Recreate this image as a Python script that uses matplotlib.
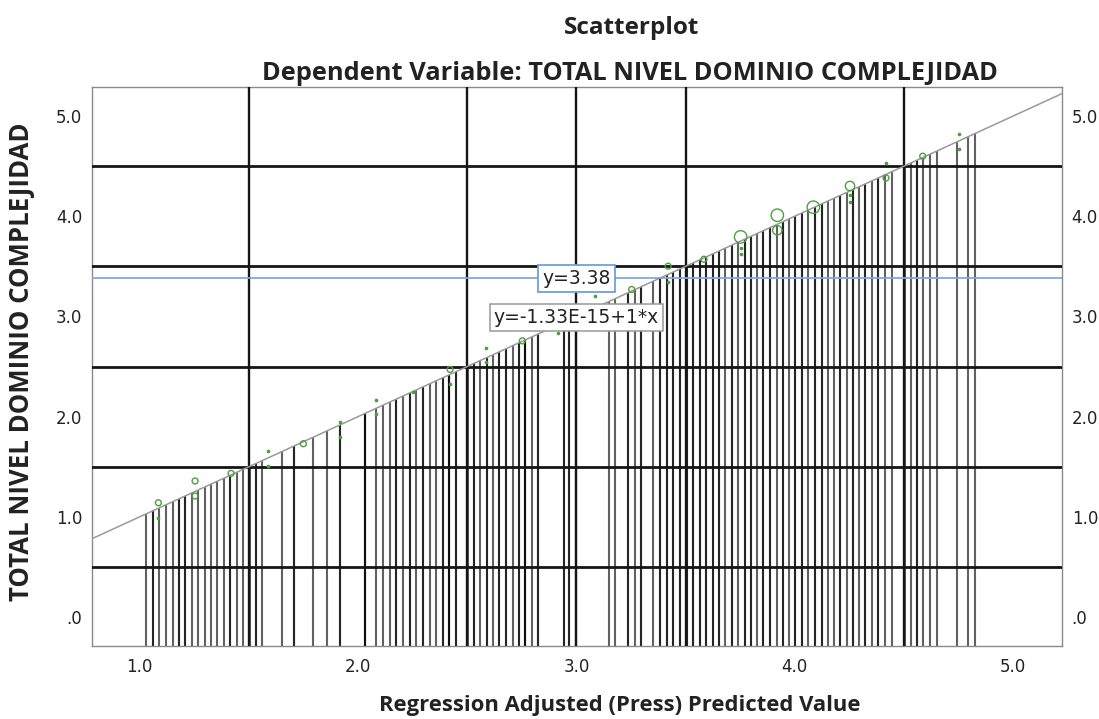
import matplotlib
matplotlib.use("Agg")
import matplotlib.pyplot as plt
import numpy as np

# ---- data ----
drop_x = [1.028, 1.059, 1.089, 1.120, 1.150, 1.179, 1.209, 1.239, 1.268, 1.297,
          1.326, 1.355, 1.385, 1.415, 1.445, 1.474, 1.503, 1.532, 1.561, 1.650,
          1.706, 1.795, 1.856, 1.915, 2.031, 2.083, 2.115, 2.144, 2.175, 2.205,
          2.236, 2.266, 2.297, 2.328, 2.358, 2.389, 2.418, 2.446, 2.503, 2.533,
          2.560, 2.588, 2.618, 2.647, 2.677, 2.708, 2.737, 2.766, 2.796, 2.824,
          2.941, 2.968, 2.999, 3.149, 3.178, 3.237, 3.268, 3.295, 3.352, 3.383,
          3.413, 3.443, 3.474, 3.505, 3.535, 3.564, 3.593, 3.624, 3.653, 3.682,
          3.711, 3.741, 3.772, 3.799, 3.827, 3.856, 3.886, 3.917, 3.946, 3.973,
          4.002, 4.032, 4.062, 4.092, 4.123, 4.153, 4.179, 4.208, 4.238, 4.268,
          4.294, 4.323, 4.352, 4.382, 4.413, 4.444, 4.505, 4.531, 4.558, 4.588,
          4.619, 4.650, 4.741, 4.795, 4.825]
drop_n = [1, 2, 1, 1, 1, 2, 2, 1, 1, 1,
          1, 1, 1, 2, 1, 1, 1, 2, 1, 1,
          2, 1, 1, 2, 3, 1, 1, 1, 2, 1,
          2, 1, 2, 1, 1, 2, 3, 2, 1, 2,
          1, 2, 1, 2, 2, 1, 2, 3, 1, 2,
          2, 2, 2, 1, 1, 2, 1, 2, 1, 2,
          2, 2, 2, 2, 2, 2, 2, 2, 2, 1,
          2, 1, 2, 2, 1, 2, 2, 1, 2, 1,
          2, 2, 1, 2, 2, 1, 1, 2, 1, 2,
          1, 2, 1, 2, 1, 1, 1, 1, 2, 1,
          1, 1, 1, 1, 1]

pt_x = [1.085, 1.082, 1.253, 1.253, 1.418, 1.586, 1.586, 1.749, 1.917, 1.917,
        2.083, 2.083, 2.253, 2.421, 2.421, 2.586, 2.586, 2.752, 2.917, 3.085,
        3.253, 3.420, 3.420, 3.584, 3.752, 3.752, 3.752, 3.920, 3.920, 4.085,
        4.253, 4.253, 4.253, 4.418, 4.418, 4.586, 4.751, 4.751]
pt_y = [1.140, 0.990, 1.357, 1.207, 1.433, 1.656, 1.506, 1.729, 1.945, 1.799,
        2.165, 2.022, 2.241, 2.471, 2.321, 2.686, 2.541, 2.756, 2.830, 3.202,
        3.269, 3.501, 3.345, 3.571, 3.794, 3.678, 3.621, 4.010, 3.860, 4.090,
        4.302, 4.209, 4.143, 4.532, 4.382, 4.599, 4.825, 4.675]
# 0 = small dot, 1 = small circle, 2 = medium circle, 3 = large circle
pt_kind = [1, 0, 1, 1, 1, 0, 0, 1, 0, 0,
           0, 0, 0, 1, 0, 0, 0, 1, 0, 0,
           1, 1, 0, 1, 3, 0, 0, 3, 2, 3,
           2, 0, 0, 0, 1, 1, 0, 0]

x_ticks = [1.0, 2.0, 3.0, 4.0, 5.0]
x_tick_labels = ["1.0", "2.0", "3.0", "4.0", "5.0"]
y_ticks = [0.0, 1.0, 2.0, 3.0, 4.0, 5.0]
y_tick_labels = [".0", "1.0", "2.0", "3.0", "4.0", "5.0"]
grid_y = [0.5, 1.5, 2.5, 3.5, 4.5]
grid_x = [1.5, 2.5, 3.0, 3.5, 4.5]
ref_y = 3.38
intercept, slope = -1.33e-15, 1.0

XMIN, XMAX = 0.781, 5.224
YMIN, YMAX = -0.29, 5.29

fig = plt.figure(figsize=(10.99, 7.19), dpi=100)
ax = fig.add_axes([92 / 1099, (719 - 646) / 719, 970 / 1099, 559 / 719])
ax.set_xlim(XMIN, XMAX)
ax.set_ylim(YMIN, YMAX)

# drop lines from fit line to the bottom
xs, tops = [], []
for x, n in zip(drop_x, drop_n):
    for _ in range(n):
        xs.append(x)
        tops.append(intercept + slope * x)
ax.vlines(xs, YMIN, tops, colors="black", alpha=0.62, linewidth=1.5, zorder=2)

# grid lines
for gy in grid_y:
    ax.axhline(gy, color="#151515", linewidth=2.0, zorder=3)
for gx in grid_x:
    ax.axvline(gx, color="#151515", linewidth=1.7, zorder=3)

# reference line and fit line
ax.axhline(ref_y, color="#7ea8e4", linewidth=1.3, zorder=4)
lx = np.array([XMIN, XMAX])
ax.plot(lx, intercept + slope * lx, color="#9a9a9a", linewidth=1.1, zorder=4)

# scatter points
green = "#4e9e3e"
px = np.array(pt_x); py = np.array(pt_y); pk = np.array(pt_kind)
m = pk == 0
ax.scatter(px[m], py[m], s=7, color=green, zorder=5, linewidths=0)
for k, sz in [(1, 18), (2, 45), (3, 80)]:
    m = pk == k
    ax.scatter(px[m], py[m], s=sz, facecolors="none", edgecolors=green,
               linewidths=1.0, zorder=5)

# annotation boxes
ax.text(3.0, ref_y, "y=3.38", ha="center", va="center", fontsize=13.5,
        family="DejaVu Sans", color="#222222", zorder=7,
        bbox=dict(boxstyle="square,pad=0.22", facecolor="white",
                  edgecolor="#6f9fe0", linewidth=1.3))
ax.text(3.0, 2.99, "y=-1.33E-15+1*x", ha="center", va="center", fontsize=13.5,
        family="DejaVu Sans", color="#222222", zorder=7,
        bbox=dict(boxstyle="square,pad=0.22", facecolor="white",
                  edgecolor="#999999", linewidth=1.1))

# axes styling
for sp in ax.spines.values():
    sp.set_color("#8a8a8a")
    sp.set_linewidth(1.0)
ax.set_xticks(x_ticks)
ax.set_xticklabels(x_tick_labels)
ax.set_yticks(y_ticks)
ax.set_yticklabels(y_tick_labels)
ax.tick_params(axis="x", length=0, pad=9, labelsize=12, labelcolor="#222222")
ax.tick_params(axis="y", length=0, pad=7, labelsize=12, labelcolor="#222222",
               left=True, right=True, labelleft=True, labelright=True)
for lab in ax.get_xticklabels() + ax.get_yticklabels():
    lab.set_family("DejaVu Sans")

# titles and axis labels
fig.text(632 / 1099, (719 - 28) / 719, "Scatterplot", ha="center", va="center",
         fontsize=17.5, fontweight="bold", family="Open Sans", color="#222222")
fig.text(630 / 1099, (719 - 73) / 719,
         "Dependent Variable: TOTAL NIVEL DOMINIO COMPLEJIDAD",
         ha="center", va="center", fontsize=18.3, fontweight="bold",
         family="Open Sans", color="#222222")
fig.text(620 / 1099, (719 - 705) / 719,
         "Regression Adjusted (Press) Predicted Value",
         ha="center", va="center", fontsize=15.8, fontweight="bold",
         family="Open Sans", color="#222222")
fig.text(22 / 1099, (719 - 362) / 719, "TOTAL NIVEL DOMINIO COMPLEJIDAD",
         ha="center", va="center", rotation=90, fontsize=18.5, fontweight="bold",
         family="Open Sans", color="#222222")

fig.savefig("out.png", dpi=100)
